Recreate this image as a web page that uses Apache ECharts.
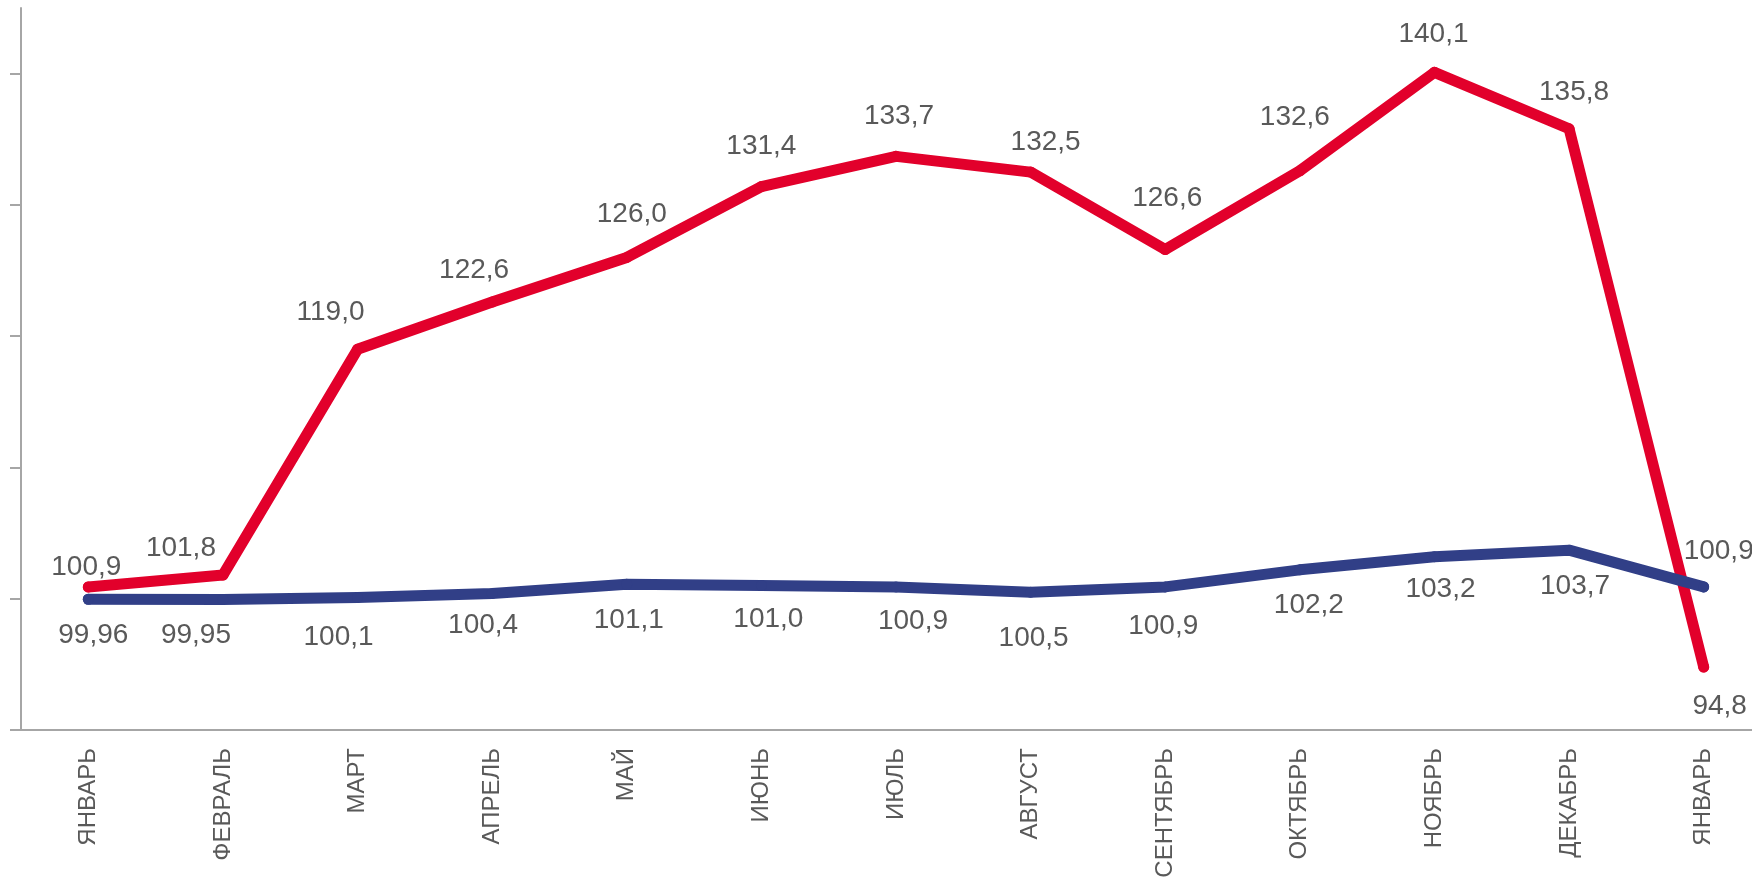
<!DOCTYPE html>
<html>
<head>
<meta charset="utf-8">
<script src="https://cdn.jsdelivr.net/npm/echarts@6/dist/echarts.min.js"></script>
<style>
html,body{margin:0;padding:0;background:#fff;}
#chart{width:1752px;height:880px;}
</style>
</head>
<body>
<div id="chart"></div>
<script>
// Data
const months = ['ЯНВАРЬ','ФЕВРАЛЬ','МАРТ','АПРЕЛЬ','МАЙ','ИЮНЬ','ИЮЛЬ','АВГУСТ','СЕНТЯБРЬ','ОКТЯБРЬ','НОЯБРЬ','ДЕКАБРЬ','ЯНВАРЬ'];
const redValues = [100.9, 101.8, 119.0, 122.6, 126.0, 131.4, 133.7, 132.5, 126.6, 132.6, 140.1, 135.8, 94.8];
const blueValues = [99.96, 99.95, 100.1, 100.4, 101.1, 101.0, 100.9, 100.5, 100.9, 102.2, 103.2, 103.7, 100.9];
const redLabels = ['100,9','101,8','119,0','122,6','126,0','131,4','133,7','132,5','126,6','132,6','140,1','135,8','94,8'];
const blueLabels = ['99,96','99,95','100,1','100,4','101,1','101,0','100,9','100,5','100,9','102,2','103,2','103,7','100,9'];
const yTicks = [90, 100, 110, 120, 130, 140];

// Label placement (style): offsets of label centre from the point
const redOffsets = [[-2,-20],[-42,-27],[-27,-37],[-18,-32],[5,-43],[0,-40],[3,-40],[15,-30],[2,-51],[-5,-53],[-1,-38],[5,-36],[16,39]];
const blueOffsets = [[5,36],[-27,36],[-19,40],[-9,32],[2,36],[7,34],[17,34],[3,46],[-2,39],[9,35],[6,33],[6,36],[15,-36]];

const RED = '#E2002B';
const BLUE = '#313F87';
const TXT = '#595959';
const AX = '#A6A6A6';

function items(values, labels, offsets) {
  return values.map((v, i) => ({
    value: v,
    label: { formatter: labels[i], offset: offsets[i] }
  }));
}

const chart = echarts.init(document.getElementById('chart'), null, {renderer: 'canvas'});
chart.setOption({
  animation: false,
  backgroundColor: '#ffffff',
  grid: { left: 21, top: 8, bottom: 150, width: 1750, outerBoundsMode: 'none', containLabel: false },
  xAxis: {
    type: 'category',
    data: months,
    boundaryGap: true,
    axisLine: { lineStyle: { color: AX, width: 2 } },
    axisTick: { show: false },
    axisLabel: {
      rotate: 90,
      margin: 18,
      color: TXT,
      fontSize: 24,
      fontFamily: 'Liberation Sans, Arial, sans-serif',
      interval: 0
    },
    splitLine: { show: false }
  },
  yAxis: {
    type: 'value',
    min: 90,
    max: 145,
    interval: 10,
    axisLine: { show: true, lineStyle: { color: AX, width: 2 } },
    axisTick: { show: true, inside: false, length: 11, lineStyle: { color: AX, width: 2 }, customValues: yTicks },
    axisLabel: { show: false },
    splitLine: { show: false }
  },
  series: [
    {
      name: 'red',
      type: 'line',
      data: items(redValues, redLabels, redOffsets),
      symbol: 'circle',
      symbolSize: 11,
      showSymbol: true,
      itemStyle: { color: RED },
      lineStyle: { color: RED, width: 11, cap: 'round', join: 'round' },
      label: {
        show: true,
        position: 'inside',
        color: TXT,
        fontSize: 28,
        fontFamily: 'Liberation Sans, Arial, sans-serif'
      },
      z: 2
    },
    {
      name: 'blue',
      type: 'line',
      data: items(blueValues, blueLabels, blueOffsets),
      symbol: 'circle',
      symbolSize: 11,
      showSymbol: true,
      itemStyle: { color: BLUE },
      lineStyle: { color: BLUE, width: 11, cap: 'round', join: 'round' },
      label: {
        show: true,
        position: 'inside',
        color: TXT,
        fontSize: 28,
        fontFamily: 'Liberation Sans, Arial, sans-serif'
      },
      z: 3
    }
  ]
});
</script>
</body>
</html>
